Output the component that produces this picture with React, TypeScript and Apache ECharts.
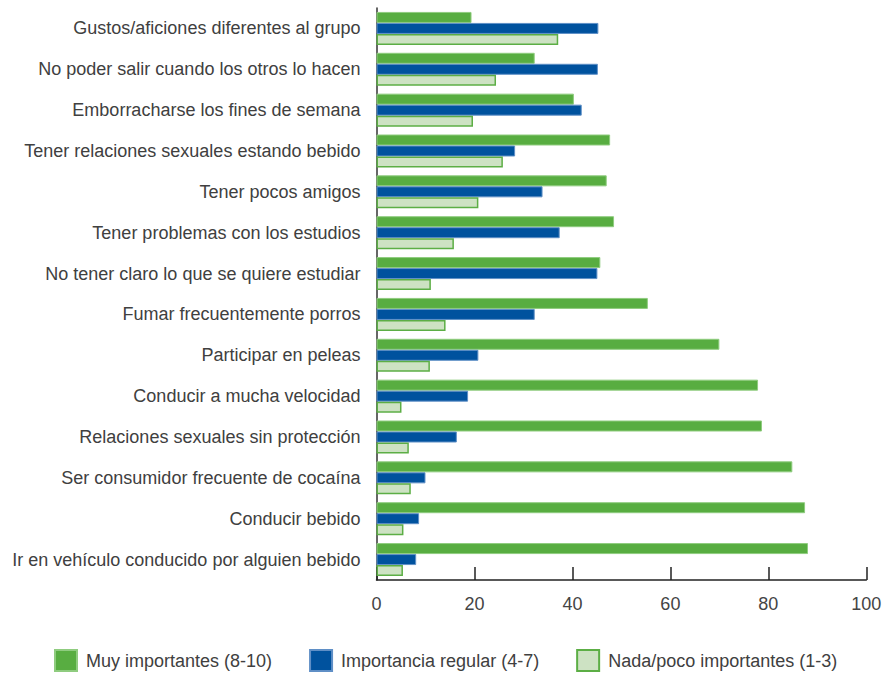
import React, { useEffect, useRef } from "react";
import * as echarts from "echarts";

const categories = [
  "Gustos/aficiones diferentes al grupo",
  "No poder salir cuando los otros lo hacen",
  "Emborracharse los fines de semana",
  "Tener relaciones sexuales estando bebido",
  "Tener pocos amigos",
  "Tener problemas con los estudios",
  "No tener claro lo que se quiere estudiar",
  "Fumar frecuentemente porros",
  "Participar en peleas",
  "Conducir a mucha velocidad",
  "Relaciones sexuales sin protección",
  "Ser consumidor frecuente de cocaína",
  "Conducir bebido",
  "Ir en vehículo conducido por alguien bebido",
];

const muyImportantes = [19.4, 32.3, 40.3, 47.7, 47.0, 48.5, 45.7, 55.4, 70.0, 77.9, 78.7, 84.9, 87.5, 88.1];
const importanciaRegular = [45.3, 45.2, 41.9, 28.3, 33.9, 37.4, 45.1, 32.3, 20.8, 18.7, 16.4, 10.0, 8.7, 8.1];
const nadaPoco = [37.1, 24.4, 19.7, 25.8, 20.8, 15.8, 11.1, 14.1, 10.9, 5.1, 6.6, 7.0, 5.5, 5.4];

const seriesNames = ["Muy importantes (8-10)", "Importancia regular (4-7)", "Nada/poco importantes (1-3)"];
const xTicks = { min: 0, max: 100, interval: 20 };

const FONT = '"Liberation Sans", Arial, Helvetica, sans-serif';

export default function App() {
  const ref = useRef<HTMLDivElement>(null);
  useEffect(() => {
    if (!ref.current) return;
    const chart = echarts.init(ref.current, null, { renderer: "svg" });
    chart.setOption({
      animation: false,
      textStyle: { fontFamily: FONT },
      grid: { left: 376.5, right: 25.7, top: 8, bottom: 97, containLabel: false },
      legend: {
        left: 49,
        top: 644,
        itemWidth: 22,
        itemHeight: 21,
        itemGap: 37,
        icon: "rect",
        textStyle: { fontSize: 18, color: "#404040", fontFamily: FONT, padding: [0, 0, 0, 4] },
        data: seriesNames,
      },
      xAxis: {
        type: "value",
        min: xTicks.min,
        max: xTicks.max,
        interval: xTicks.interval,
        splitLine: { show: false },
        axisLine: { show: true, lineStyle: { color: "#222", width: 1.5 } },
        axisTick: { show: true, inside: true, length: 13, lineStyle: { color: "#222", width: 1.5 } },
        axisLabel: { fontSize: 18, color: "#444", margin: 15, fontFamily: FONT },
      },
      yAxis: {
        type: "category",
        inverse: true,
        data: categories,
        axisLine: { show: true, lineStyle: { color: "#333", width: 1.5 } },
        axisTick: { show: false },
        axisLabel: { fontSize: 18, color: "#404040", margin: 16, fontFamily: FONT },
      },
      series: [
        {
          name: seriesNames[0],
          type: "bar",
          data: muyImportantes,
          barWidth: 11,
          barGap: "0%",
          itemStyle: { color: "#58ad41", borderColor: "#8fcc7f", borderWidth: 1 },
        },
        {
          name: seriesNames[1],
          type: "bar",
          data: importanciaRegular,
          barWidth: 11,
          barGap: "0%",
          itemStyle: { color: "#00529e", borderColor: "#5f8fc6", borderWidth: 1 },
        },
        {
          name: seriesNames[2],
          type: "bar",
          data: nadaPoco,
          barWidth: 11,
          barGap: "0%",
          itemStyle: { color: "#cde2c3", borderColor: "#5cae45", borderWidth: 1.5 },
        },
      ],
    });
    return () => chart.dispose();
  }, []);
  return (
    <div
      ref={ref}
      style={{ position: "fixed", left: 0, top: 0, width: 892, height: 677, background: "#fff" }}
    />
  );
}
